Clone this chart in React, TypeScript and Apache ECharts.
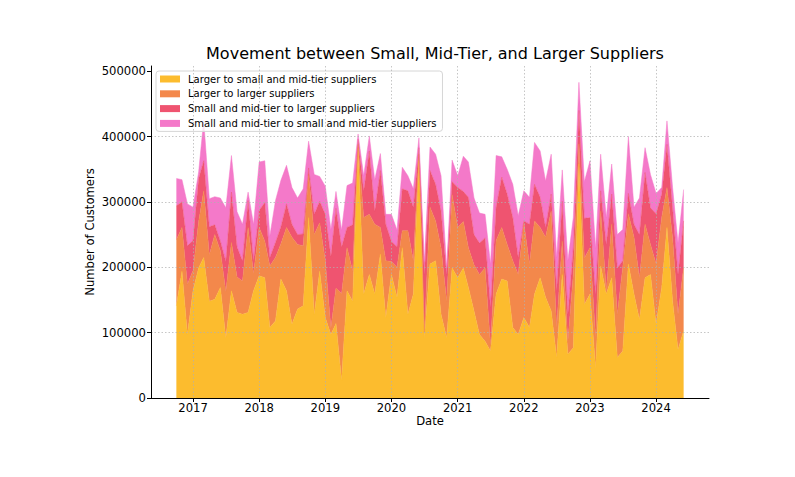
import React, { useEffect, useRef } from "react";
import * as echarts from "echarts";

const TITLE = "Movement between Small, Mid-Tier, and Larger Suppliers";
const SERIES_NAMES = [
  "Larger to small and mid-tier suppliers",
  "Larger to larger suppliers",
  "Small and mid-tier to larger suppliers",
  "Small and mid-tier to small and mid-tier suppliers",
];
const COLORS = ["#FCBC2E", "#F3884B", "#EF5470", "#F479C9"];

// monthly data, first month = October 2016
const START_YEAR = 2016;
const START_MONTH = 10;

const largerToSmall = [
  141000, 194000, 97000, 164000, 199000, 215000, 148000, 151000, 169000, 92000, 164000, 131000,
  128000, 131000, 164000, 187000, 184000, 108000, 118000, 182000, 164000, 113000, 136000, 141000,
  276000, 128000, 194000, 123000, 97000, 114000, 27000, 164000, 148000, 383000, 159000, 189000,
  159000, 220000, 123000, 189000, 154000, 230000, 128000, 159000, 363000, 92000, 205000, 210000,
  128000, 92000, 199000, 184000, 199000, 169000, 133000, 97000, 87000, 72000, 159000, 182000,
  179000, 108000, 97000, 123000, 108000, 159000, 184000, 154000, 133000, 62000, 189000, 67000,
  77000, 358000, 143000, 159000, 46000, 202000, 159000, 184000, 62000, 72000, 205000, 159000,
  120000, 184000, 189000, 113000, 169000, 261000, 148000, 74000, 103000,
];
const largerToLarger = [
  101000, 67000, 77000, 31000, 71000, 102000, 71000, 99000, 56000, 71000, 74000, 54000,
  51000, 130000, 26000, 74000, 56000, 94000, 97000, 54000, 97000, 133000, 99000, 92000,
  66000, 122000, 74000, 87000, 10000, 54000, 133000, 66000, 46000, 5000, 117000, 92000,
  107000, 41000, 87000, 20000, 46000, 26000, 128000, 51000, 10000, 8000, 87000, 61000,
  102000, 56000, 112000, 77000, 71000, 61000, 71000, 92000, 112000, 8000, 82000, 79000,
  56000, 102000, 92000, 145000, 97000, 112000, 77000, 92000, 153000, 46000, 51000, 20000,
  112000, 31000, 71000, 71000, 46000, 84000, 5000, 82000, 66000, 128000, 77000, 87000,
  64000, 82000, 46000, 92000, 107000, 61000, 97000, 54000, 97000,
];
const smallToLarger = [
  52000, 39000, 59000, 46000, 66000, 46000, 43000, 15000, 15000, 46000, 77000, 46000,
  31000, 41000, 20000, 26000, 59000, 13000, 23000, 26000, 36000, 20000, 15000, 18000,
  10000, 31000, 33000, 71000, 110000, 122000, 71000, 31000, 71000, 8000, 41000, 97000,
  20000, 87000, 56000, 31000, 31000, 64000, 61000, 82000, 10000, 89000, 56000, 56000,
  56000, 41000, 20000, 61000, 46000, 77000, 46000, 48000, 46000, 59000, 51000, 77000,
  77000, 66000, 26000, 3000, 61000, 56000, 46000, 15000, 26000, 56000, 61000, 41000,
  41000, 51000, 61000, 46000, 66000, 31000, 71000, 46000, 71000, 10000, 31000, 20000,
  66000, 79000, 56000, 77000, 36000, 66000, 46000, 61000, 71000,
];
const smallToSmall = [
  42000, 34000, 64000, 51000, 10000, 62000, 43000, 43000, 66000, 82000, 56000, 54000,
  56000, 13000, 56000, 74000, 64000, 33000, 64000, 71000, 59000, 56000, 56000, 69000,
  41000, 61000, 38000, 43000, 41000, 26000, 26000, 64000, 64000, 8000, 23000, 23000,
  48000, 26000, 15000, 41000, 26000, 33000, 23000, 28000, 15000, 20000, 36000, 46000,
  54000, 10000, 33000, 18000, 54000, 54000, 56000, 46000, 36000, 66000, 79000, 31000,
  38000, 51000, 64000, 46000, 41000, 64000, 71000, 71000, 61000, 51000, 48000, 82000,
  46000, 43000, 56000, 87000, 71000, 56000, 41000, 46000, 51000, 48000, 87000, 26000,
  56000, 38000, 51000, 31000, 10000, 36000, 31000, 48000, 48000,
];

const Y_TICKS = [0, 100000, 200000, 300000, 400000, 500000];

const FONT = "DejaVu Sans";
const YEAR_MS = 365 * 24 * 3600 * 1000;

export default function App() {
  const ref = useRef<HTMLDivElement>(null);

  useEffect(() => {
    if (!ref.current) return;
    const chart = echarts.init(ref.current, null, { renderer: "svg" });

    const n = largerToSmall.length;
    const dates: number[] = [];
    for (let i = 0; i < n; i++) {
      dates.push(new Date(START_YEAR, START_MONTH - 1 + i, 1).getTime());
    }
    const first = dates[0];
    const last = dates[n - 1];
    const margin = (last - first) * 0.05;

    const allSeries = [largerToSmall, largerToLarger, smallToLarger, smallToSmall];

    chart.setOption({
      animation: false,
      backgroundColor: "#ffffff",
      textStyle: { fontFamily: FONT },
      title: {
        text: TITLE,
        left: 430,
        top: 40,
        textAlign: "center",
        textStyle: { fontFamily: FONT, fontSize: 16, fontWeight: "normal", color: "#000" },
      },
      legend: {
        orient: "vertical",
        left: 156,
        top: 71,
        padding: [3, 6, 3, 4],
        itemGap: 4.8,
        itemWidth: 20,
        itemHeight: 7,
        icon: "rect",
        backgroundColor: "rgba(255,255,255,0.8)",
        borderColor: "#d6d6d6",
        borderWidth: 1,
        borderRadius: 3,
        textStyle: { fontFamily: FONT, fontSize: 10, color: "#000", padding: [0, 0, 0, 3] },
        data: SERIES_NAMES,
      },
      grid: { left: 151, right: 86, top: 66, bottom: 79, containLabel: false },
      xAxis: {
        type: "time",
        min: first - margin,
        max: last + margin,
        minInterval: YEAR_MS,
        maxInterval: YEAR_MS * 1.01,
        z: 5,
        axisLine: { show: true, onZero: false, lineStyle: { color: "#000", width: 1 } },
        axisTick: { show: true, length: 4, lineStyle: { color: "#000" } },
        axisLabel: {
          formatter: (v: number) => String(new Date(v).getFullYear()),
          fontFamily: FONT,
          fontSize: 11.6,
          color: "#000",
          fontWeight: "normal",
          margin: 4,
          showMinLabel: false,
          showMaxLabel: false,
          hideOverlap: false,
        },
        splitLine: {
          show: true,
          showMinLine: false,
          showMaxLine: false,
          lineStyle: { color: "#b0b0b0", width: 0.9, type: [1.5, 2], opacity: 0.8 },
        },
      },
      yAxis: {
        type: "value",
        min: 0,
        max: 508000,
        z: 5,
        axisLine: { show: true, lineStyle: { color: "#000", width: 1 } },
        axisTick: { show: true, length: 4, customValues: Y_TICKS, lineStyle: { color: "#000" } },
        axisLabel: {
          customValues: Y_TICKS,
          formatter: (v: number) => String(v),
          fontFamily: FONT,
          fontSize: 11.6,
          color: "#000",
          margin: 5,
        },
        splitLine: {
          show: true,
          showMaxLine: false,
          lineStyle: { color: "#b0b0b0", width: 0.9, type: [1.5, 2], opacity: 0.8 },
        },
      },
      graphic: [
        {
          type: "text",
          x: 430,
          y: 421,
          style: {
            text: "Date",
            align: "center",
            verticalAlign: "middle",
            fontFamily: FONT,
            fontSize: 11.6,
            fill: "#000",
          },
        },
        {
          type: "text",
          x: 90,
          y: 232,
          rotation: Math.PI / 2,
          style: {
            text: "Number of Customers",
            align: "center",
            verticalAlign: "middle",
            fontFamily: FONT,
            fontSize: 11.6,
            fill: "#000",
          },
        },
      ],
      series: allSeries.map((vals, k) => ({
        name: SERIES_NAMES[k],
        type: "line",
        stack: "total",
        showSymbol: false,
        symbol: "none",
        smooth: false,
        color: COLORS[k],
        lineStyle: { width: 0.5, color: COLORS[k] },
        areaStyle: { color: COLORS[k], opacity: 1 },
        data: vals.map((v, i) => [dates[i], v]),
      })),
    });

    return () => chart.dispose();
  }, []);

  return (
    <div
      ref={ref}
      style={{ position: "absolute", left: 0, top: 0, width: 795, height: 477 }}
    />
  );
}
